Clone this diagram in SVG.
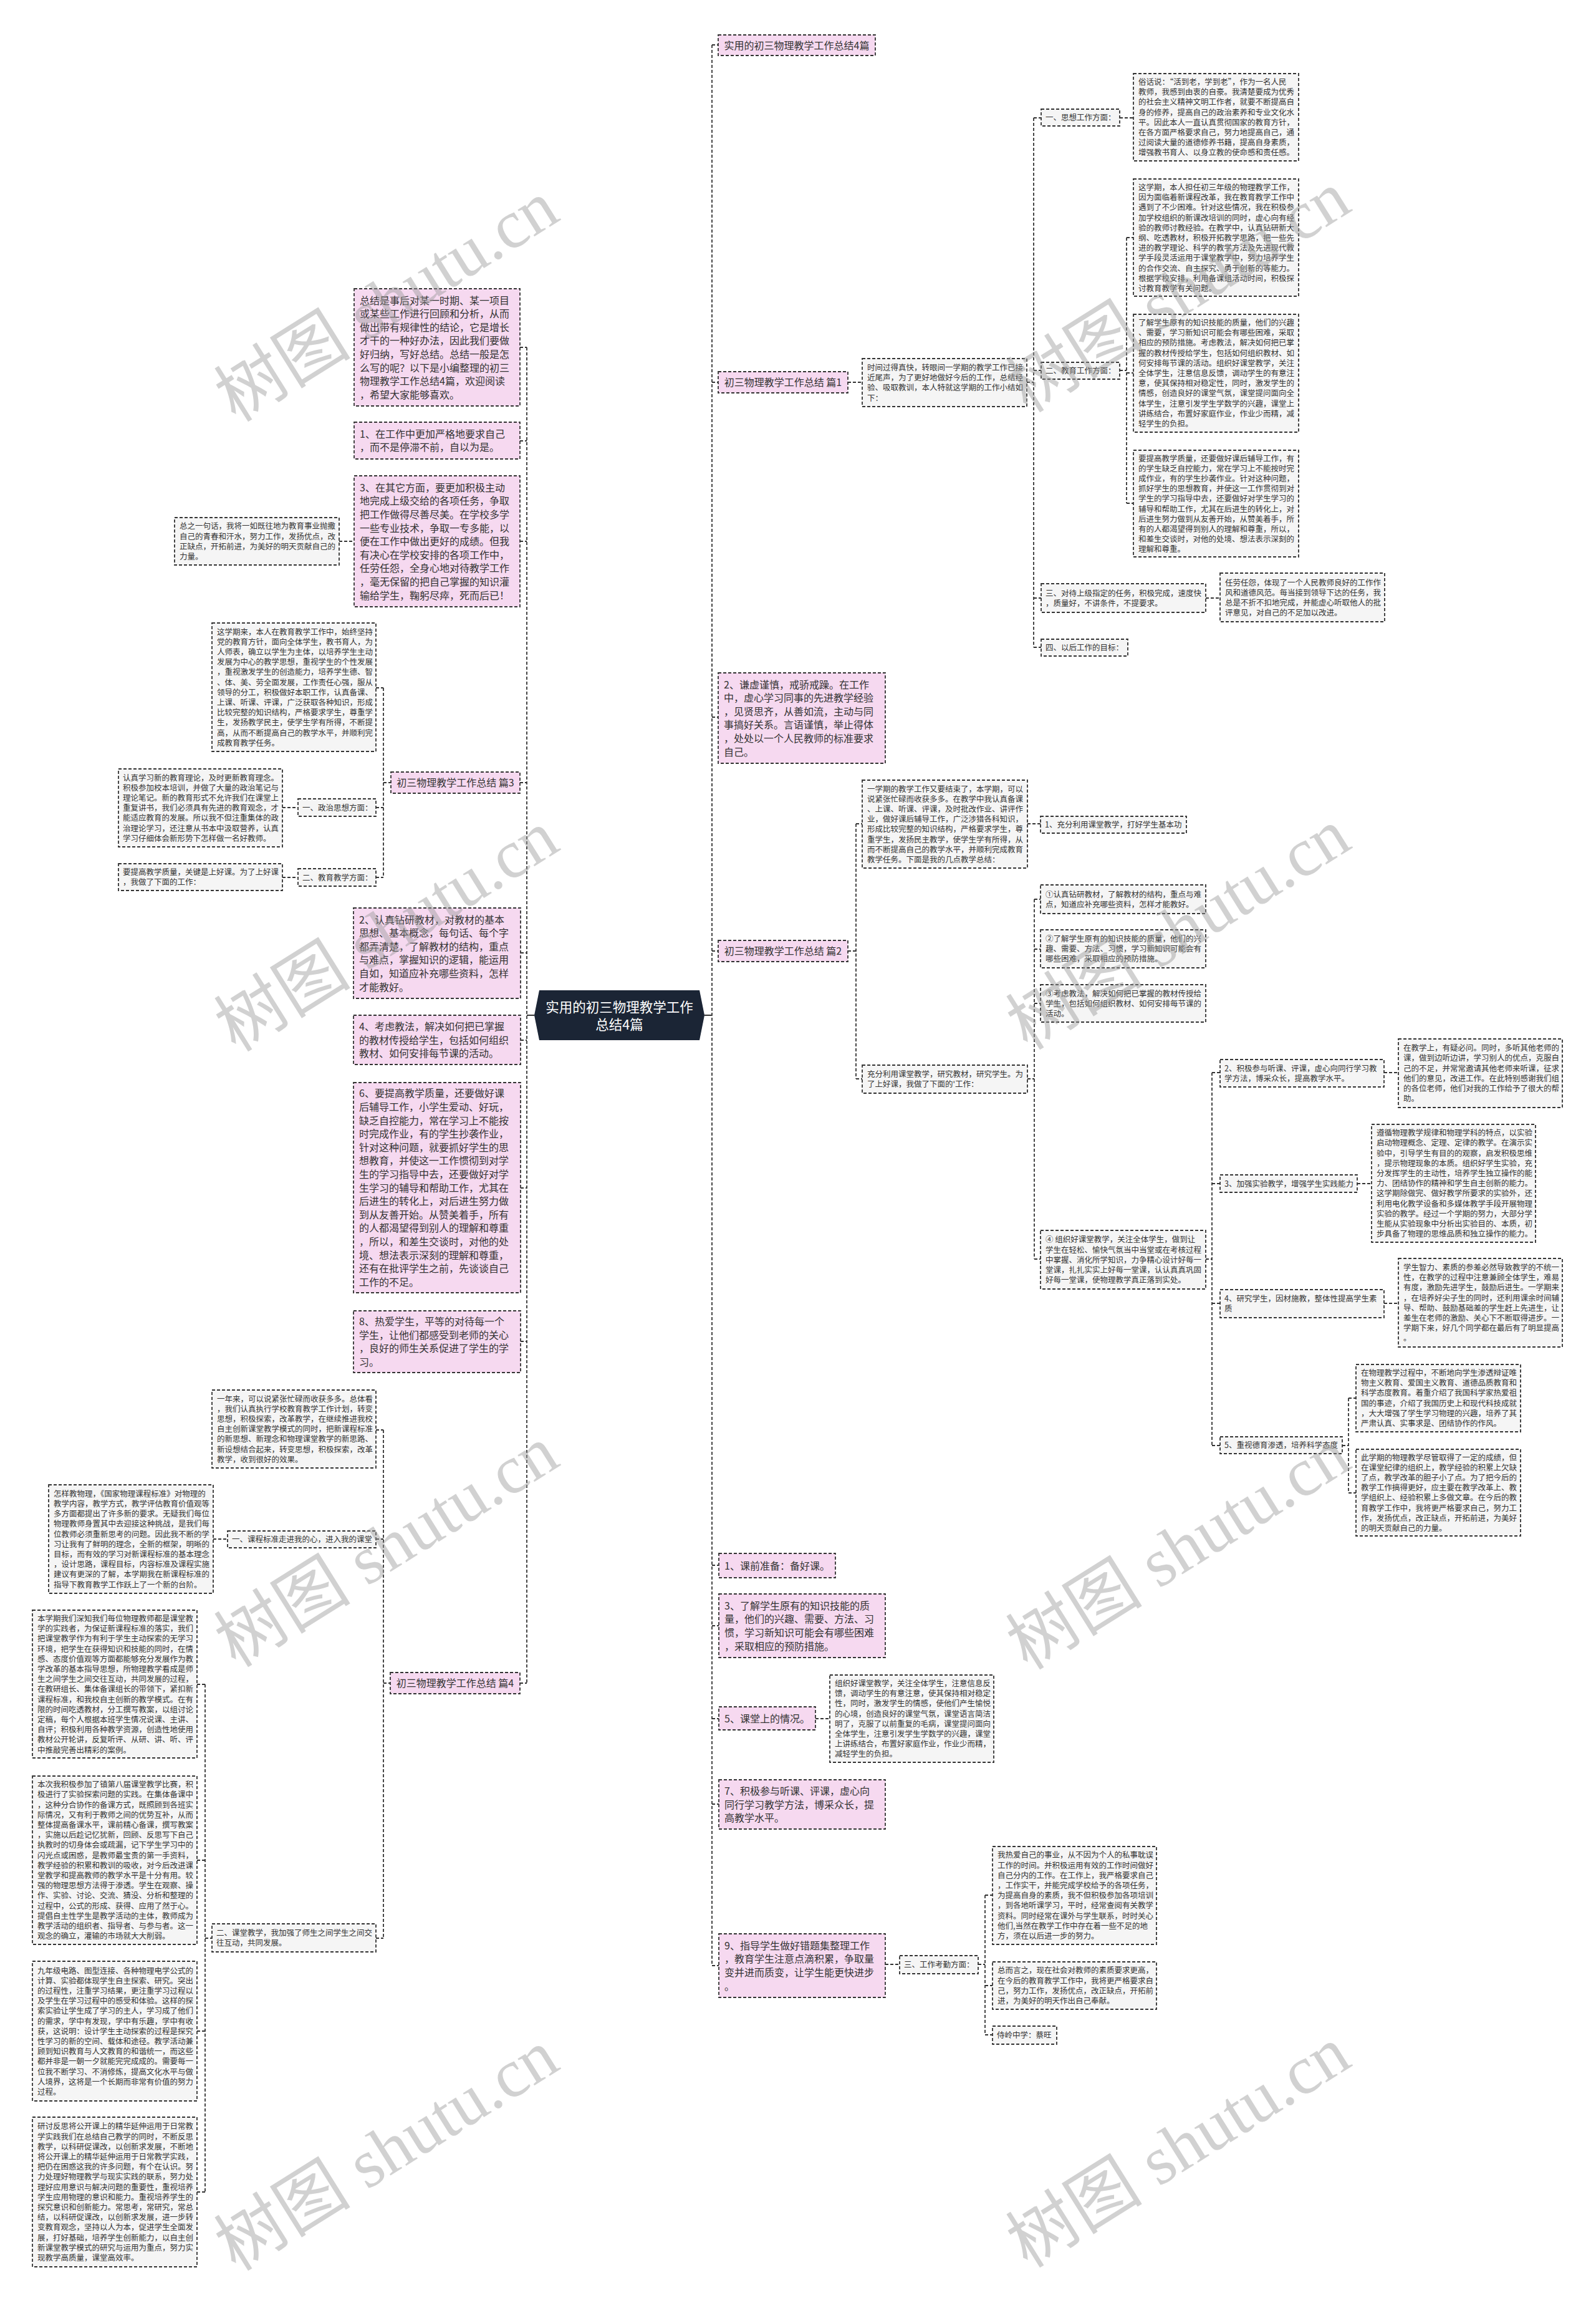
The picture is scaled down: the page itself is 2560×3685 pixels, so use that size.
<svg xmlns="http://www.w3.org/2000/svg" width="2560" height="3685" viewBox="0 0 2560 3685">
<style>
.c{fill:none;stroke:#333;stroke-width:1.8;stroke-dasharray:5 3}
.g{fill:#f5f5f5;stroke:#333;stroke-width:1.8;stroke-dasharray:5 3}
.p{fill:#f6d9f0;stroke:#333;stroke-width:1.8;stroke-dasharray:5 3}
.t{font-family:"Noto Sans CJK SC","Noto Sans",sans-serif;font-size:12.5px;fill:#333}
.tp{font-family:"Noto Sans CJK SC","Noto Sans",sans-serif;font-size:16px;fill:#333}
.w{font-family:"Liberation Serif","Noto Sans CJK SC",serif;font-size:110px;fill:#9a9a9a;opacity:0.45}
</style>
<rect width="2560" height="3685" fill="#ffffff"/>
<g id="connectors">
<path class="c" d="M1142 72 V3152 M1142 72 H1152 M1142 613 H1152 M1360 613 H1383 M1647 613 H1658 M1658 189 V1038 M1658 189 H1670 M1796 189 H1818 M1658 594 H1670 M1796 594 H1807 M1807 381 V807 M1807 381 H1818 M1807 598 H1818 M1807 807 H1818 M1658 959 H1670 M1934 959 H1957 M1658 1038 H1670 M1142 1150 H1152 M1142 1525 H1152 M1360 1525 H1373 M1373 1321 V1730 M1373 1321 H1383 M1648 1321 H1669 M1373 1730 H1383 M1648 1730 H1659 M1659 1442 V2019 M1659 1442 H1669 M1659 1522 H1669 M1659 1609 H1669 M1659 2019 H1669 M1934 2019 H1944 M1944 1720 V2318 M1944 1720 H1957 M2220 1720 H2243 M1944 1898 H1957 M2177 1898 H2200 M1944 2090 H1957 M2220 2090 H2243 M1944 2318 H1957 M2153 2318 H2163 M2163 2242 V2394 M2163 2242 H2175 M2163 2394 H2175 M1142 2510 H1153 M1142 2607 H1153 M1142 2756 H1153 M1308 2756 H1331 M1142 2893 H1153 M1142 3152 H1153 M1420 3150 H1443 M1569 3150 H1580 M1580 3039 V3263 M1580 3039 H1592 M1580 3184 H1592 M1580 3263 H1592"/>
<path class="c" d="M845 557 V2699 M834 557 H845 M834 707 H845 M834 868 H845 M544 868 H568 M834 1255 H845 M615 1255 H627 M615 1103 V1407 M603 1103 H615 M603 1295 H615 M603 1407 H615 M453 1295 H478 M453 1407 H478 M835 1528 H845 M835 1668 H845 M835 1905 H845 M835 2151 H845 M834 2699 H845 M615 2699 H626 M615 2293 V3108 M603 2293 H615 M603 2468 H615 M342 2468 H365 M603 3108 H615 M329 2701 V3515 M329 3108 H340 M316 2701 H329 M316 2983 H329 M316 3257 H329 M316 3515 H329"/>
<path d="M845 1628 H857 M1130 1628 H1142" fill="none" stroke="#333" stroke-width="2"/>
</g>

<g id="center">
<polygon points="857,1628 865,1588 1122,1588 1130,1628 1122,1668 865,1668" fill="#1b2535"/>
<text x="993.5" y="1623" text-anchor="middle" font-family="Noto Sans CJK SC,sans-serif" font-size="21.5" fill="#ffffff">实用的初三物理教学工作</text>
<text x="993.5" y="1651" text-anchor="middle" font-family="Noto Sans CJK SC,sans-serif" font-size="21.5" fill="#ffffff">总结4篇</text>
</g>

<g id="title"><rect class="p" x="1152" y="56" width="252" height="33"/><text class="tp" x="1278" y="78.5" text-anchor="middle">实用的初三物理教学工作总结4篇</text></g>

<g id="p1"><rect class="p" x="1152" y="596" width="208" height="34"/><text class="tp" x="1256" y="619" text-anchor="middle">初三物理教学工作总结 篇1</text></g>
<g id="p1d"><rect class="g" x="1383" y="575" width="264" height="77"/><text class="t" x="1391" y="594"><tspan x="1391">时间过得真快，转眼间一学期的教学工作已接</tspan><tspan x="1391" dy="16.2">近尾声，为了更好地做好今后的工作，总结经</tspan><tspan x="1391" dy="16.2">验、吸取教训，本人特就这学期的工作小结如</tspan><tspan x="1391" dy="16.2">下：</tspan></text></g>
<g id="p1a"><rect class="g" x="1670" y="175" width="126" height="27"/><text class="t" x="1677" y="193">一、思想工作方面：</text></g>
<g id="p1a1"><rect class="g" x="1818" y="118" width="265" height="140"/><text class="t" x="1826" y="136"><tspan x="1826">俗话说：“活到老，学到老”，作为一名人民</tspan><tspan x="1826" dy="16.2">教师，我感到由衷的自豪。我清楚要成为优秀</tspan><tspan x="1826" dy="16.2">的社会主义精神文明工作者，就要不断提高自</tspan><tspan x="1826" dy="16.2">身的修养，提高自己的政治素养和专业文化水</tspan><tspan x="1826" dy="16.2">平。因此本人一直认真贯彻国家的教育方针，</tspan><tspan x="1826" dy="16.2">在各方面严格要求自己，努力地提高自己，通</tspan><tspan x="1826" dy="16.2">过阅读大量的道德修养书籍，提高自身素质，</tspan><tspan x="1826" dy="16.2">增强教书育人、以身立教的使命感和责任感。</tspan></text></g>
<g id="p1b"><rect class="g" x="1670" y="581" width="126" height="27"/><text class="t" x="1677" y="599">二、教育工作方面：</text></g>
<g id="p1b1"><rect class="g" x="1818" y="287" width="265" height="188"/><text class="t" x="1826" y="305"><tspan x="1826">这学期，本人担任初三年级的物理教学工作，</tspan><tspan x="1826" dy="16.2">因为面临着新课程改革，我在教育教学工作中</tspan><tspan x="1826" dy="16.2">遇到了不少困难。针对这些情况，我在积极参</tspan><tspan x="1826" dy="16.2">加学校组织的新课改培训的同时，虚心向有经</tspan><tspan x="1826" dy="16.2">验的教师讨教经验。在教学中，认真钻研新大</tspan><tspan x="1826" dy="16.2">纲、吃透教材，积极开拓教学思路，把一些先</tspan><tspan x="1826" dy="16.2">进的教学理论、科学的教学方法及先进现代教</tspan><tspan x="1826" dy="16.2">学手段灵活运用于课堂教学中，努力培养学生</tspan><tspan x="1826" dy="16.2">的合作交流、自主探究、勇于创新的等能力。</tspan><tspan x="1826" dy="16.2">根据学校安排，利用备课组活动时间，积极探</tspan><tspan x="1826" dy="16.2">讨教育教学有关问题。</tspan></text></g>
<g id="p1b2"><rect class="g" x="1818" y="504" width="265" height="189"/><text class="t" x="1826" y="522"><tspan x="1826">了解学生原有的知识技能的质量，他们的兴趣</tspan><tspan x="1826" dy="16.2">、需要，学习新知识可能会有哪些困难，采取</tspan><tspan x="1826" dy="16.2">相应的预防措施。考虑教法，解决如何把已掌</tspan><tspan x="1826" dy="16.2">握的教材传授给学生，包括如何组织教材、如</tspan><tspan x="1826" dy="16.2">何安排每节课的活动。组织好课堂教学，关注</tspan><tspan x="1826" dy="16.2">全体学生，注意信息反馈，调动学生的有意注</tspan><tspan x="1826" dy="16.2">意，使其保持相对稳定性，同时，激发学生的</tspan><tspan x="1826" dy="16.2">情感，创造良好的课堂气氛，课堂提问面向全</tspan><tspan x="1826" dy="16.2">体学生，注意引发学生学数学的兴趣，课堂上</tspan><tspan x="1826" dy="16.2">讲练结合，布置好家庭作业，作业少而精，减</tspan><tspan x="1826" dy="16.2">轻学生的负担。</tspan></text></g>
<g id="p1b3"><rect class="g" x="1818" y="722" width="265" height="171"/><text class="t" x="1826" y="739.5"><tspan x="1826">要提高教学质量，还要做好课后辅导工作，有</tspan><tspan x="1826" dy="16.2">的学生缺乏自控能力，常在学习上不能按时完</tspan><tspan x="1826" dy="16.2">成作业，有的学生抄袭作业。针对这种问题，</tspan><tspan x="1826" dy="16.2">抓好学生的思想教育，并使这一工作贯彻到对</tspan><tspan x="1826" dy="16.2">学生的学习指导中去，还要做好对学生学习的</tspan><tspan x="1826" dy="16.2">辅导和帮助工作，尤其在后进生的转化上，对</tspan><tspan x="1826" dy="16.2">后进生努力做到从友善开始，从赞美着手，所</tspan><tspan x="1826" dy="16.2">有的人都渴望得到别人的理解和尊重，所以，</tspan><tspan x="1826" dy="16.2">和差生交谈时，对他的处境、想法表示深刻的</tspan><tspan x="1826" dy="16.2">理解和尊重。</tspan></text></g>
<g id="p1c"><rect class="g" x="1670" y="936" width="264" height="46"/><text class="t" x="1677" y="955.5"><tspan x="1677">三、对待上级指定的任务，积极完成，速度快</tspan><tspan x="1677" dy="16.2">，质量好，不讲条件，不提要求。</tspan></text></g>
<g id="p1c1"><rect class="g" x="1957" y="919" width="264" height="78"/><text class="t" x="1965" y="938.5"><tspan x="1965">任劳任怨，体现了一个人民教师良好的工作作</tspan><tspan x="1965" dy="16.2">风和道德风范。每当接到领导下达的任务，我</tspan><tspan x="1965" dy="16.2">总是不折不扣地完成，并能虚心听取他人的批</tspan><tspan x="1965" dy="16.2">评意见，对自己的不足加以改进。</tspan></text></g>
<g id="p1d4"><rect class="g" x="1670" y="1025" width="139" height="27"/><text class="t" x="1677" y="1043">四、以后工作的目标：</text></g>

<g id="r2"><rect class="p" x="1152" y="1079" width="268" height="145"/><text class="tp" x="1161" y="1103.5"><tspan x="1161">2、谦虚谨慎，戒骄戒躁。在工作</tspan><tspan x="1161" dy="21.6">中，虚心学习同事的先进教学经验</tspan><tspan x="1161" dy="21.6">，见贤思齐，从善如流，主动与同</tspan><tspan x="1161" dy="21.6">事搞好关系。言语谨慎，举止得体</tspan><tspan x="1161" dy="21.6">，处处以一个人民教师的标准要求</tspan><tspan x="1161" dy="21.6">自己。</tspan></text></g>

<g id="p2"><rect class="p" x="1152" y="1508" width="208" height="34"/><text class="tp" x="1256" y="1531" text-anchor="middle">初三物理教学工作总结 篇2</text></g>
<g id="p2d"><rect class="g" x="1383" y="1251" width="265" height="141"/><text class="t" x="1391" y="1269.5"><tspan x="1391">一学期的教学工作又要结束了，本学期，可以</tspan><tspan x="1391" dy="16.2">说紧张忙碌而收获多多。在教学中我认真备课</tspan><tspan x="1391" dy="16.2">、上课、听课、评课，及时批改作业、讲评作</tspan><tspan x="1391" dy="16.2">业，做好课后辅导工作，广泛涉猎各科知识，</tspan><tspan x="1391" dy="16.2">形成比较完整的知识结构，严格要求学生，尊</tspan><tspan x="1391" dy="16.2">重学生，发扬民主教学，使学生学有所得，从</tspan><tspan x="1391" dy="16.2">而不断提高自己的教学水平，并顺利完成教育</tspan><tspan x="1391" dy="16.2">教学任务。下面是我的几点教学总结：</tspan></text></g>
<g id="p2a"><rect class="g" x="1669" y="1309" width="234" height="27"/><text class="t" x="1676" y="1327">1、充分利用课堂教学，打好学生基本功</text></g>
<g id="p2b"><rect class="g" x="1383" y="1708" width="265" height="45"/><text class="t" x="1391" y="1727"><tspan x="1391">充分利用课堂教学，研究教材，研究学生。为</tspan><tspan x="1391" dy="16.2">了上好课，我做了下面的'工作：</tspan></text></g>
<g id="p2b1"><rect class="g" x="1669" y="1419" width="265" height="46"/><text class="t" x="1677" y="1438.5"><tspan x="1677">①认真钻研教材，了解教材的结构，重点与难</tspan><tspan x="1677" dy="16.2">点，知道应补充哪些资料，怎样才能教好。</tspan></text></g>
<g id="p2b2"><rect class="g" x="1669" y="1491" width="265" height="61"/><text class="t" x="1677" y="1510"><tspan x="1677">②了解学生原有的知识技能的质量，他们的兴</tspan><tspan x="1677" dy="16.2">趣、需要、方法、习惯，学习新知识可能会有</tspan><tspan x="1677" dy="16.2">哪些困难，采取相应的预防措施。</tspan></text></g>
<g id="p2b3"><rect class="g" x="1669" y="1579" width="265" height="60"/><text class="t" x="1677" y="1597.5"><tspan x="1677">③考虑教法，解决如何把已掌握的教材传授给</tspan><tspan x="1677" dy="16.2">学生，包括如何组织教材、如何安排每节课的</tspan><tspan x="1677" dy="16.2">活动。</tspan></text></g>
<g id="p2b4"><rect class="g" x="1669" y="1973" width="265" height="94"/><text class="t" x="1677" y="1992.3"><tspan x="1677">④ 组织好课堂教学，关注全体学生，做到让</tspan><tspan x="1677" dy="16.2">学生在轻松、愉快气氛当中当堂或在考核过程</tspan><tspan x="1677" dy="16.2">中掌握、消化所学知识，力争精心设计好每一</tspan><tspan x="1677" dy="16.2">堂课，扎扎实实上好每一堂课，认认真真巩固</tspan><tspan x="1677" dy="16.2">好每一堂课，使物理教学真正落到实处。</tspan></text></g>
<g id="p2c2"><rect class="g" x="1957" y="1699" width="263" height="44"/><text class="t" x="1964" y="1717.6"><tspan x="1964">2、积极参与听课、评课，虚心向同行学习教</tspan><tspan x="1964" dy="16.2">学方法，博采众长，提高教学水平。</tspan></text></g>
<g id="p2c2a"><rect class="g" x="2243" y="1666" width="263" height="110"/><text class="t" x="2251" y="1685.2"><tspan x="2251">在教学上，有疑必问。同时，多听其他老师的</tspan><tspan x="2251" dy="16.2">课，做到边听边讲，学习别人的优点，克服自</tspan><tspan x="2251" dy="16.2">己的不足，并常常邀请其他老师来听课，征求</tspan><tspan x="2251" dy="16.2">他们的意见，改进工作。在此特别感谢我们组</tspan><tspan x="2251" dy="16.2">的各位老师，他们对我的工作给予了很大的帮</tspan><tspan x="2251" dy="16.2">助。</tspan></text></g>
<g id="p2c3"><rect class="g" x="1957" y="1884" width="220" height="28"/><text class="t" x="1964" y="1902.7">3、加强实验教学，增强学生实践能力</text></g>
<g id="p2c3a"><rect class="g" x="2200" y="1803" width="263" height="189"/><text class="t" x="2208" y="1821.2"><tspan x="2208">遵循物理教学规律和物理学科的特点，以实验</tspan><tspan x="2208" dy="16.2">启动物理概念、定理、定律的教学。在演示实</tspan><tspan x="2208" dy="16.2">验中，引导学生有目的的观察，启发积极思维</tspan><tspan x="2208" dy="16.2">，提示物理现象的本质。组织好学生实验，充</tspan><tspan x="2208" dy="16.2">分发挥学生的主动性，培养学生独立操作的能</tspan><tspan x="2208" dy="16.2">力、团结协作的精神和学生自主创新的能力。</tspan><tspan x="2208" dy="16.2">这学期除做完、做好教学所要求的实验外，还</tspan><tspan x="2208" dy="16.2">利用电化教学设备和多媒体教学手段开展物理</tspan><tspan x="2208" dy="16.2">实验的教学。经过一个学期的努力，大部分学</tspan><tspan x="2208" dy="16.2">生能从实验现象中分析出实验目的、本质，初</tspan><tspan x="2208" dy="16.2">步具备了物理的思维品质和独立操作的能力。</tspan></text></g>
<g id="p2c4"><rect class="g" x="1957" y="2068" width="263" height="45"/><text class="t" x="1964" y="2087"><tspan x="1964">4、研究学生，因材施教，整体性提高学生素</tspan><tspan x="1964" dy="16.2">质</tspan></text></g>
<g id="p2c4a"><rect class="g" x="2243" y="2018" width="263" height="142"/><text class="t" x="2251" y="2037"><tspan x="2251">学生智力、素质的参差必然导致教学的不统一</tspan><tspan x="2251" dy="16.2">性，在教学的过程中注意兼顾全体学生，难易</tspan><tspan x="2251" dy="16.2">有度，激励先进学生，鼓励后进生。一学期来</tspan><tspan x="2251" dy="16.2">，在培养好尖子生的同时，还利用课余时间辅</tspan><tspan x="2251" dy="16.2">导、帮助、鼓励基础差的学生赶上先进生，让</tspan><tspan x="2251" dy="16.2">差生在老师的激励、关心下不断取得进步。一</tspan><tspan x="2251" dy="16.2">学期下来，好几个同学都在最后有了明显提高</tspan><tspan x="2251" dy="16.2">。</tspan></text></g>
<g id="p2c5"><rect class="g" x="1957" y="2304" width="196" height="27"/><text class="t" x="1964" y="2322">5、重视德育渗透，培养科学态度</text></g>
<g id="p2c5a"><rect class="g" x="2175" y="2188" width="264" height="108"/><text class="t" x="2183" y="2206"><tspan x="2183">在物理教学过程中，不断地向学生渗透辩证唯</tspan><tspan x="2183" dy="16.2">物主义教育、爱国主义教育、道德品质教育和</tspan><tspan x="2183" dy="16.2">科学态度教育。着重介绍了我国科学家热爱祖</tspan><tspan x="2183" dy="16.2">国的事迹，介绍了我国历史上和现代科技成就</tspan><tspan x="2183" dy="16.2">，大大增强了学生学习物理的兴趣，培养了其</tspan><tspan x="2183" dy="16.2">严肃认真、实事求是、团结协作的作风。</tspan></text></g>
<g id="p2c5b"><rect class="g" x="2175" y="2324" width="264" height="139"/><text class="t" x="2183" y="2341.5"><tspan x="2183">此学期的物理教学尽管取得了一定的成绩，但</tspan><tspan x="2183" dy="16.2">在课堂纪律的组织上，教学经验的积累上欠缺</tspan><tspan x="2183" dy="16.2">了点，教学改革的胆子小了点。为了把今后的</tspan><tspan x="2183" dy="16.2">教学工作搞得更好，应主要在教学改革上、教</tspan><tspan x="2183" dy="16.2">学组织上、经验积累上多做文章。在今后的教</tspan><tspan x="2183" dy="16.2">育教学工作中，我将更严格要求自己，努力工</tspan><tspan x="2183" dy="16.2">作，发扬优点，改正缺点，开拓前进，为美好</tspan><tspan x="2183" dy="16.2">的明天贡献自己的力量。</tspan></text></g>

<g id="r1"><rect class="p" x="1153" y="2491" width="187" height="39"/><text class="tp" x="1162" y="2516.6">1、课前准备：备好课。</text></g>
<g id="r3"><rect class="p" x="1153" y="2556" width="267" height="102"/><text class="tp" x="1162" y="2580.7"><tspan x="1162">3、了解学生原有的知识技能的质</tspan><tspan x="1162" dy="21.6">量，他们的兴趣、需要、方法、习</tspan><tspan x="1162" dy="21.6">惯，学习新知识可能会有哪些困难</tspan><tspan x="1162" dy="21.6">，采取相应的预防措施。</tspan></text></g>
<g id="r5"><rect class="p" x="1153" y="2737" width="155" height="37"/><text class="tp" x="1162" y="2761.6">5、课堂上的情况。</text></g>
<g id="r5a"><rect class="g" x="1331" y="2686" width="263" height="140"/><text class="t" x="1339" y="2704"><tspan x="1339">组织好课堂教学，关注全体学生，注意信息反</tspan><tspan x="1339" dy="16.2">馈，调动学生的有意注意，使其保持相对稳定</tspan><tspan x="1339" dy="16.2">性，同时，激发学生的情感，使他们产生愉悦</tspan><tspan x="1339" dy="16.2">的心境，创造良好的课堂气氛，课堂语言简洁</tspan><tspan x="1339" dy="16.2">明了，克服了以前重复的毛病，课堂提问面向</tspan><tspan x="1339" dy="16.2">全体学生，注意引发学生学数学的兴趣，课堂</tspan><tspan x="1339" dy="16.2">上讲练结合，布置好家庭作业，作业少而精，</tspan><tspan x="1339" dy="16.2">减轻学生的负担。</tspan></text></g>
<g id="r7"><rect class="p" x="1153" y="2854" width="267" height="79"/><text class="tp" x="1162" y="2878"><tspan x="1162">7、积极参与听课、评课，虚心向</tspan><tspan x="1162" dy="21.6">同行学习教学方法，博采众长，提</tspan><tspan x="1162" dy="21.6">高教学水平。</tspan></text></g>
<g id="r9"><rect class="p" x="1153" y="3101" width="267" height="102"/><text class="tp" x="1162" y="3125.7"><tspan x="1162">9、指导学生做好错题集整理工作</tspan><tspan x="1162" dy="21.6">，教育学生注意点滴积累，争取量</tspan><tspan x="1162" dy="21.6">变并进而质变，让学生能更快进步</tspan><tspan x="1162" dy="21.6">。</tspan></text></g>
<g id="r9a"><rect class="g" x="1443" y="3136" width="126" height="29"/><text class="t" x="1450" y="3155">三、工作考勤方面：</text></g>
<g id="r9a1"><rect class="g" x="1592" y="2961" width="263" height="157"/><text class="t" x="1600" y="2979.4"><tspan x="1600">我热爱自己的事业，从不因为个人的私事耽误</tspan><tspan x="1600" dy="16.2">工作的时间。并积极运用有效的工作时间做好</tspan><tspan x="1600" dy="16.2">自己分内的工作。在工作上，我严格要求自己</tspan><tspan x="1600" dy="16.2">，工作实干，并能完成学校给予的各项任务，</tspan><tspan x="1600" dy="16.2">为提高自身的素质，我不但积极参加各项培训</tspan><tspan x="1600" dy="16.2">，到各地听课学习，平时，经常查阅有关教学</tspan><tspan x="1600" dy="16.2">资料。同时经常在课外与学生联系，时时关心</tspan><tspan x="1600" dy="16.2">他们,当然在教学工作中存在着一些不足的地</tspan><tspan x="1600" dy="16.2">方，须在以后进一步的努力。</tspan></text></g>
<g id="r9a2"><rect class="g" x="1592" y="3146" width="263" height="76"/><text class="t" x="1600" y="3164.4"><tspan x="1600">总而言之，现在社会对教师的素质要求更高，</tspan><tspan x="1600" dy="16.2">在今后的教育教学工作中，我将更严格要求自</tspan><tspan x="1600" dy="16.2">己，努力工作，发扬优点，改正缺点，开拓前</tspan><tspan x="1600" dy="16.2">进，为美好的明天作出自己奉献。</tspan></text></g>
<g id="r9a3"><rect class="g" x="1592" y="3249" width="103" height="29"/><text class="t" x="1599" y="3268">侍岭中学：蔡旺</text></g>

<g id="intro"><rect class="p" x="568" y="463" width="266" height="188"/><text class="tp" x="577" y="487.5"><tspan x="577">总结是事后对某一时期、某一项目</tspan><tspan x="577" dy="21.6">或某些工作进行回顾和分析，从而</tspan><tspan x="577" dy="21.6">做出带有规律性的结论，它是增长</tspan><tspan x="577" dy="21.6">才干的一种好办法，因此我们要做</tspan><tspan x="577" dy="21.6">好归纳，写好总结。总结一般是怎</tspan><tspan x="577" dy="21.6">么写的呢？以下是小编整理的初三</tspan><tspan x="577" dy="21.6">物理教学工作总结4篇，欢迎阅读</tspan><tspan x="577" dy="21.6">，希望大家能够喜欢。</tspan></text></g>
<g id="l1"><rect class="p" x="568" y="677" width="266" height="59"/><text class="tp" x="577" y="701.8"><tspan x="577">1、在工作中更加严格地要求自己</tspan><tspan x="577" dy="21.6">，而不是停滞不前，自以为是。</tspan></text></g>
<g id="l3"><rect class="p" x="568" y="763" width="266" height="210"/><text class="tp" x="577" y="787.7"><tspan x="577">3、在其它方面，要更加积极主动</tspan><tspan x="577" dy="21.6">地完成上级交给的各项任务，争取</tspan><tspan x="577" dy="21.6">把工作做得尽善尽美。在学校多学</tspan><tspan x="577" dy="21.6">一些专业技术，争取一专多能，以</tspan><tspan x="577" dy="21.6">便在工作中做出更好的成绩。但我</tspan><tspan x="577" dy="21.6">有决心在学校安排的各项工作中，</tspan><tspan x="577" dy="21.6">任劳任怨，全身心地对待教学工作</tspan><tspan x="577" dy="21.6">，毫无保留的把自己掌握的知识灌</tspan><tspan x="577" dy="21.6">输给学生，鞠躬尽瘁，死而后已！</tspan></text></g>
<g id="l3a"><rect class="g" x="280" y="830" width="264" height="76"/><text class="t" x="288" y="848.4"><tspan x="288">总之一句话，我将一如既往地为教育事业抛撒</tspan><tspan x="288" dy="16.2">自己的青春和汗水，努力工作，发扬优点，改</tspan><tspan x="288" dy="16.2">正缺点，开拓前进，为美好的明天贡献自己的</tspan><tspan x="288" dy="16.2">力量。</tspan></text></g>

<g id="p3"><rect class="p" x="627" y="1238" width="207" height="34"/><text class="tp" x="730.5" y="1261" text-anchor="middle">初三物理教学工作总结 篇3</text></g>
<g id="p3d"><rect class="g" x="340" y="999" width="263" height="206"/><text class="t" x="348" y="1017.6"><tspan x="348">这学期来，本人在教育教学工作中，始终坚持</tspan><tspan x="348" dy="16.2">党的教育方针，面向全体学生，教书育人，为</tspan><tspan x="348" dy="16.2">人师表，确立以学生为主体，以培养学生主动</tspan><tspan x="348" dy="16.2">发展为中心的教学思想，重视学生的个性发展</tspan><tspan x="348" dy="16.2">，重视激发学生的创造能力，培养学生德、智</tspan><tspan x="348" dy="16.2">、体、美、劳全面发展，工作责任心强，服从</tspan><tspan x="348" dy="16.2">领导的分工，积极做好本职工作，认真备课、</tspan><tspan x="348" dy="16.2">上课、听课、评课，广泛获取各种知识，形成</tspan><tspan x="348" dy="16.2">比较完整的知识结构，严格要求学生，尊重学</tspan><tspan x="348" dy="16.2">生，发扬教学民主，使学生学有所得，不断提</tspan><tspan x="348" dy="16.2">高，从而不断提高自己的教学水平，并顺利完</tspan><tspan x="348" dy="16.2">成教育教学任务。</tspan></text></g>
<g id="p3a"><rect class="g" x="478" y="1281" width="125" height="28"/><text class="t" x="485" y="1299.7">一、政治思想方面：</text></g>
<g id="p3a1"><rect class="g" x="190" y="1233" width="263" height="125"/><text class="t" x="197" y="1251.6"><tspan x="197">认真学习新的教育理论，及时更新教育理念。</tspan><tspan x="197" dy="16.2">积极参加校本培训，并做了大量的政治笔记与</tspan><tspan x="197" dy="16.2">理论笔记。新的教育形式不允许我们在课堂上</tspan><tspan x="197" dy="16.2">重复讲书，我们必须具有先进的教育观念，才</tspan><tspan x="197" dy="16.2">能适应教育的发展。所以我不但注重集体的政</tspan><tspan x="197" dy="16.2">治理论学习，还注意从书本中汲取营养，认真</tspan><tspan x="197" dy="16.2">学习仔细体会新形势下怎样做一名好教师。</tspan></text></g>
<g id="p3b"><rect class="g" x="478" y="1393" width="125" height="28"/><text class="t" x="485" y="1411.7">二、教育教学方面：</text></g>
<g id="p3b1"><rect class="g" x="190" y="1385" width="263" height="43"/><text class="t" x="197" y="1403"><tspan x="197">要提高教学质量，关键是上好课。为了上好课</tspan><tspan x="197" dy="16.2">，我做了下面的工作：</tspan></text></g>

<g id="l2"><rect class="p" x="567" y="1456" width="268" height="145"/><text class="tp" x="576" y="1480.6"><tspan x="576">2、认真钻研教材，对教材的基本</tspan><tspan x="576" dy="21.6">思想、基本概念，每句话、每个字</tspan><tspan x="576" dy="21.6">都弄清楚，了解教材的结构，重点</tspan><tspan x="576" dy="21.6">与难点，掌握知识的逻辑，能运用</tspan><tspan x="576" dy="21.6">自如，知道应补充哪些资料，怎样</tspan><tspan x="576" dy="21.6">才能教好。</tspan></text></g>
<g id="l4"><rect class="p" x="567" y="1628" width="268" height="79"/><text class="tp" x="576" y="1652"><tspan x="576">4、考虑教法，解决如何把已掌握</tspan><tspan x="576" dy="21.6">的教材传授给学生，包括如何组织</tspan><tspan x="576" dy="21.6">教材、如何安排每节课的活动。</tspan></text></g>
<g id="l6"><rect class="p" x="567" y="1736" width="268" height="337"/><text class="tp" x="576" y="1759.4"><tspan x="576">6、要提高教学质量，还要做好课</tspan><tspan x="576" dy="21.6">后辅导工作，小学生爱动、好玩，</tspan><tspan x="576" dy="21.6">缺乏自控能力，常在学习上不能按</tspan><tspan x="576" dy="21.6">时完成作业，有的学生抄袭作业，</tspan><tspan x="576" dy="21.6">针对这种问题，就要抓好学生的思</tspan><tspan x="576" dy="21.6">想教育，并使这一工作惯彻到对学</tspan><tspan x="576" dy="21.6">生的学习指导中去，还要做好对学</tspan><tspan x="576" dy="21.6">生学习的辅导和帮助工作，尤其在</tspan><tspan x="576" dy="21.6">后进生的转化上，对后进生努力做</tspan><tspan x="576" dy="21.6">到从友善开始。从赞美着手，所有</tspan><tspan x="576" dy="21.6">的人都渴望得到别人的理解和尊重</tspan><tspan x="576" dy="21.6">，所以，和差生交谈时，对他的处</tspan><tspan x="576" dy="21.6">境、想法表示深刻的理解和尊重，</tspan><tspan x="576" dy="21.6">还有在批评学生之前，先谈谈自己</tspan><tspan x="576" dy="21.6">工作的不足。</tspan></text></g>
<g id="l8"><rect class="p" x="567" y="2102" width="268" height="99"/><text class="tp" x="576" y="2125.2"><tspan x="576">8、热爱学生，平等的对待每一个</tspan><tspan x="576" dy="21.6">学生，让他们都感受到老师的关心</tspan><tspan x="576" dy="21.6">，良好的师生关系促进了学生的学</tspan><tspan x="576" dy="21.6">习。</tspan></text></g>

<g id="p4"><rect class="p" x="626" y="2682" width="208" height="34"/><text class="tp" x="730" y="2705" text-anchor="middle">初三物理教学工作总结 篇4</text></g>
<g id="p4d"><rect class="g" x="340" y="2229" width="263" height="125"/><text class="t" x="348" y="2247.6"><tspan x="348">一年来，可以说紧张忙碌而收获多多。总体看</tspan><tspan x="348" dy="16.2">，我们认真执行学校教育教学工作计划，转变</tspan><tspan x="348" dy="16.2">思想，积极探索，改革教学，在继续推进我校</tspan><tspan x="348" dy="16.2">自主创新课堂教学模式的同时，把新课程标准</tspan><tspan x="348" dy="16.2">的新思想、新理念和物理课堂教学的新思路、</tspan><tspan x="348" dy="16.2">新设想结合起来，转变思想，积极探索，改革</tspan><tspan x="348" dy="16.2">教学，收到很好的效果。</tspan></text></g>
<g id="p4a"><rect class="g" x="365" y="2455" width="238" height="27"/><text class="t" x="372" y="2473">一、课程标准走进我的心，进入我的课堂</text></g>
<g id="p4a1"><rect class="g" x="78" y="2381" width="264" height="174"/><text class="t" x="86" y="2399.8"><tspan x="86">怎样教物理，《国家物理课程标准》对物理的</tspan><tspan x="86" dy="16.2">教学内容，教学方式，教学评估教育价值观等</tspan><tspan x="86" dy="16.2">多方面都提出了许多新的要求。无疑我们每位</tspan><tspan x="86" dy="16.2">物理教师身置其中去迎接这种挑战，是我们每</tspan><tspan x="86" dy="16.2">位教师必须重新思考的问题。因此我不断的学</tspan><tspan x="86" dy="16.2">习让我有了鲜明的理念，全新的框架，明晰的</tspan><tspan x="86" dy="16.2">目标，而有效的学习对新课程标准的基本理念</tspan><tspan x="86" dy="16.2">，设计思路，课程目标，内容标准及课程实施</tspan><tspan x="86" dy="16.2">建议有更深的了解，本学期我在新课程标准的</tspan><tspan x="86" dy="16.2">指导下教育教学工作跃上了一个新的台阶。</tspan></text></g>
<g id="p4b"><rect class="g" x="340" y="3085" width="263" height="45"/><text class="t" x="347" y="3104"><tspan x="347">二、课堂教学，我加强了师生之间学生之间交</tspan><tspan x="347" dy="16.2">往互动，共同发展。</tspan></text></g>
<g id="p4b1"><rect class="g" x="52" y="2582" width="264" height="237"/><text class="t" x="60" y="2600"><tspan x="60">本学期我们深知我们每位物理教师都是课堂教</tspan><tspan x="60" dy="16.2">学的实践者，为保证新课程标准的落实，我们</tspan><tspan x="60" dy="16.2">把课堂教学作为有利于学生主动探索的无学习</tspan><tspan x="60" dy="16.2">环境，把学生在获得知识和技能的同时，在情</tspan><tspan x="60" dy="16.2">感、态度价值观等方面都能够充分发展作为教</tspan><tspan x="60" dy="16.2">学改革的基本指导思想，所物理教学看成是师</tspan><tspan x="60" dy="16.2">生之间学生之间交往互动，共同发展的过程，</tspan><tspan x="60" dy="16.2">在教研组长、集体备课组长的带领下，紧扣新</tspan><tspan x="60" dy="16.2">课程标准，和我校自主创新的教学模式。在有</tspan><tspan x="60" dy="16.2">限的时间吃透教材，分工撰写教案，以组讨论</tspan><tspan x="60" dy="16.2">定稿，每个人根据本班学生情况说课、主讲、</tspan><tspan x="60" dy="16.2">自评；积极利用各种教学资源，创造性地使用</tspan><tspan x="60" dy="16.2">教材公开轮讲，反复听评、从研、讲、听、评</tspan><tspan x="60" dy="16.2">中推敲完善出精彩的案例。</tspan></text></g>
<g id="p4b2"><rect class="g" x="52" y="2848" width="264" height="270"/><text class="t" x="60" y="2866.2"><tspan x="60">本次我积极参加了镇第八届课堂教学比赛，积</tspan><tspan x="60" dy="16.2">极进行了实验探索问题的实践。在集体备课中</tspan><tspan x="60" dy="16.2">，这种分合协作的备课方式，既照顾到各班实</tspan><tspan x="60" dy="16.2">际情况，又有利于教师之间的优势互补，从而</tspan><tspan x="60" dy="16.2">整体提高备课水平，课前精心备课，撰写教案</tspan><tspan x="60" dy="16.2">，实施以后趁记忆犹新，回顾、反思写下自己</tspan><tspan x="60" dy="16.2">执教时的切身体会或疏漏，记下学生学习中的</tspan><tspan x="60" dy="16.2">闪光点或困惑，是教师最宝贵的第一手资料，</tspan><tspan x="60" dy="16.2">教学经验的积累和教训的吸收，对今后改进课</tspan><tspan x="60" dy="16.2">堂教学和提高教师的教学水平是十分有用。较</tspan><tspan x="60" dy="16.2">强的物理思想方法得于渗透。学生在观察、操</tspan><tspan x="60" dy="16.2">作、实验、讨论、交流、猜没、分析和整理的</tspan><tspan x="60" dy="16.2">过程中，公式的形成、获得、应用了然于心。</tspan><tspan x="60" dy="16.2">提倡自主性学生是教学活动的主体，教师成为</tspan><tspan x="60" dy="16.2">教学活动的组织者、指导者、与参与者。这一</tspan><tspan x="60" dy="16.2">观念的确立，灌输的市场就大大削弱。</tspan></text></g>
<g id="p4b3"><rect class="g" x="52" y="3145" width="264" height="224"/><text class="t" x="60" y="3164.5"><tspan x="60">九年级电路、图型连接、各种物理电学公式的</tspan><tspan x="60" dy="16.2">计算、实验都体现学生自主探索、研究。突出</tspan><tspan x="60" dy="16.2">的过程性，注重学习结果，更注重学习过程以</tspan><tspan x="60" dy="16.2">及学生在学习过程中的感受和体验。这样的探</tspan><tspan x="60" dy="16.2">索实验让学生成了学习的主人，学习成了他们</tspan><tspan x="60" dy="16.2">的需求，学中有发现，学中有乐趣，学中有收</tspan><tspan x="60" dy="16.2">获，这说明：设计学生主动探索的过程是探究</tspan><tspan x="60" dy="16.2">性学习的新的空间、载体和途径。教学活动兼</tspan><tspan x="60" dy="16.2">顾到知识教育与人文教育的和谐统一，而这些</tspan><tspan x="60" dy="16.2">都并非是一朝一夕就能完完成成的。需要每一</tspan><tspan x="60" dy="16.2">位我不断学习、不消修炼，提高文化水平与做</tspan><tspan x="60" dy="16.2">人境界，这将是一个长期而非常有价值的努力</tspan><tspan x="60" dy="16.2">过程。</tspan></text></g>
<g id="p4b4"><rect class="g" x="52" y="3395" width="264" height="240"/><text class="t" x="60" y="3414.4"><tspan x="60">研讨反思将公开课上的精华延伸运用于日常教</tspan><tspan x="60" dy="16.2">学实践我们在总结自己教学的同时，不断反思</tspan><tspan x="60" dy="16.2">教学，以科研促课改，以创新求发展，不断地</tspan><tspan x="60" dy="16.2">将公开课上的精华延伸运用于日常教学实践，</tspan><tspan x="60" dy="16.2">把仍在困惑这我的许多问题，有个在认识。努</tspan><tspan x="60" dy="16.2">力处理好物理教学与现实实践的联系，努力处</tspan><tspan x="60" dy="16.2">理好应用意识与解决问题的重要性，重视培养</tspan><tspan x="60" dy="16.2">学生应用物理的意识和能力。重视培养学生的</tspan><tspan x="60" dy="16.2">探究意识和创新能力。常思考，常研究，常总</tspan><tspan x="60" dy="16.2">结，以科研促课改，以创新求发展，进一步转</tspan><tspan x="60" dy="16.2">变教育观念，坚持以人为本，促进学生全面发</tspan><tspan x="60" dy="16.2">展，打好基础，培养学生创新能力，以自主创</tspan><tspan x="60" dy="16.2">新课堂教学模式的研究与运用为重点，努力实</tspan><tspan x="60" dy="16.2">现教学高质量，课堂高效率。</tspan></text></g>

<g id="watermarks">
<text class="w" text-anchor="middle" transform="translate(640 515) rotate(-32)">树图 shutu.cn</text>
<text class="w" text-anchor="middle" transform="translate(1910 500) rotate(-32)">树图 shutu.cn</text>
<text class="w" text-anchor="middle" transform="translate(640 1525) rotate(-32)">树图 shutu.cn</text>
<text class="w" text-anchor="middle" transform="translate(1910 1522) rotate(-32)">树图 shutu.cn</text>
<text class="w" text-anchor="middle" transform="translate(640 2512) rotate(-32)">树图 shutu.cn</text>
<text class="w" text-anchor="middle" transform="translate(1910 2516) rotate(-32)">树图 shutu.cn</text>
<text class="w" text-anchor="middle" transform="translate(640 3480) rotate(-32)">树图 shutu.cn</text>
<text class="w" text-anchor="middle" transform="translate(1910 3475) rotate(-32)">树图 shutu.cn</text>
</g>
</svg>
